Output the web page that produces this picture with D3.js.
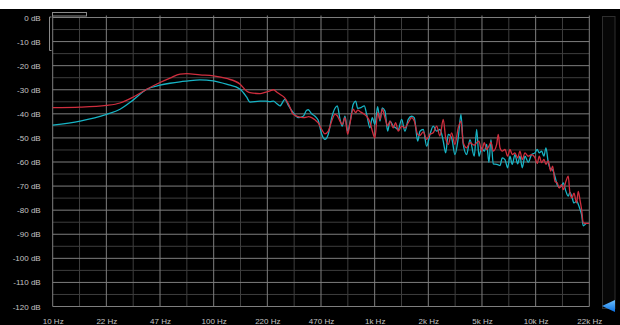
<!DOCTYPE html>
<html><head><meta charset="utf-8">
<script src="https://cdn.jsdelivr.net/npm/d3@7"></script>
<style>html,body{margin:0;padding:0;background:#fff;}svg{display:block;}</style>
</head><body>
<svg id="chart" width="620" height="325"></svg>
<script>
const freqs = [10, 14.8, 21.6, 26.2, 31.7, 38.4, 46.4, 53.5, 61.8, 68.0, 82.2, 99.4, 120, 146, 160, 168, 194, 211, 224, 235, 247, 258, 277, 291, 312, 335, 360, 378, 387, 406, 426, 446, 469, 491, 515, 541, 567, 586, 609, 629, 654, 680, 702, 736, 762, 784, 822, 862, 892, 935, 966, 1004, 1044, 1079, 1115, 1159, 1204, 1245, 1305, 1350, 1401, 1471, 1542, 1617, 1698, 1762, 1850, 1912, 2004, 2104, 2206, 2312, 2427, 2544, 2667, 2761, 2865, 3008, 3153, 3305, 3436, 3551, 3728, 3908, 4156, 4301, 4445, 4619, 4795, 4963, 5128, 5277, 5454, 5726, 5859, 6003, 6204, 6448, 6702, 6926, 7157, 7439, 7732, 7991, 8258, 8583, 8998, 9446, 9900, 10231, 10528, 10896, 11260, 11587, 11974, 12392, 12752, 13179, 13619, 14014, 14504, 14840, 15424, 15940, 16332, 16806, 17294, 17974, 18390, 18843, 19306, 19753, 20736, 21500];

const redDb = [-37.4, -37.2, -36.5, -35.5, -33, -29.8, -27, -25.2, -23.5, -23.3, -23.8, -24.2, -25.3, -27.7, -30.5, -31.2, -31.6, -31, -30.5, -30, -31, -31.9, -33.5, -35.8, -40.2, -41.2, -41.6, -41.4, -41.2, -41.6, -42.5, -43.8, -46.5, -48.3, -47.2, -43, -40.2, -40.8, -43, -44.4, -41.6, -48.5, -44, -38.1, -39.5, -38.5, -39.3, -40.2, -41, -43.5, -47, -50, -39.5, -42.3, -38.1, -41.6, -45, -43, -45.8, -43.7, -47.2, -45.1, -45.8, -43.7, -41.6, -43, -48.5, -49, -47.5, -50.6, -48.5, -47.9, -45.1, -49.2, -42.3, -50, -52.7, -47.9, -52.7, -45.8, -43, -52, -54.1, -52, -53, -52, -51.3, -55.5, -52, -54.8, -53.4, -51.8, -55.5, -52.7, -48.5, -54.1, -55.5, -54.8, -57.6, -54.8, -56.9, -56.2, -58.3, -55.5, -59, -56.2, -57.6, -56.9, -58.2, -60.6, -57.6, -60.3, -58.9, -61, -59.5, -63.8, -61.7, -68, -68.7, -70.8, -69.4, -71.5, -68, -65.9, -72.9, -74.9, -72.9, -77, -72.2, -75.6, -79.8, -85.3, -85.5, -85.5];

const cyanDb = [-44.7, -43, -40.2, -38.1, -34.2, -29.8, -28.1, -27.3, -26.7, -26.4, -25.9, -26.3, -27.7, -29.8, -33, -35.1, -34.7, -34.7, -34.9, -34.7, -35.8, -36.7, -34, -36.5, -39.5, -41.6, -41, -38.5, -38.3, -40, -41, -42.7, -48.5, -50.6, -48.5, -41.6, -37.7, -36.7, -42.2, -45.1, -41, -47.2, -43.7, -36, -34.7, -37.7, -37.4, -36.7, -40.2, -45.8, -41.6, -44.4, -37, -43, -37.5, -38.8, -47.2, -43, -45.1, -45.8, -46.5, -42.3, -47.2, -42.3, -41, -41.6, -51.3, -47.2, -46.5, -53.4, -48.5, -45.1, -47.2, -46.5, -51.3, -56.2, -48.5, -50, -56.9, -50, -40.2, -52.7, -56.9, -50.7, -57.6, -46.5, -57.6, -54.1, -55.5, -52.7, -60.1, -50.7, -60.8, -61, -61.2, -61.5, -58.3, -59, -62.4, -57.6, -61, -56.9, -60.8, -57.6, -62.4, -57.6, -60.1, -56.9, -56.2, -54.8, -56.2, -55.5, -57.6, -54.1, -60.1, -62.9, -63.3, -66, -69.5, -70.5, -70, -68.7, -72.2, -74.2, -72.5, -74.5, -77, -76.3, -77.5, -79.5, -82, -86.5, -85.5, -85.5];

const xTickValues = [10, 21.544, 46.416, 100, 215.44, 464.16, 1000, 2154.4, 4641.6, 10000, 21544];
const xTickLabels = ["10 Hz", "22 Hz", "47 Hz", "100 Hz", "220 Hz", "470 Hz", "1k Hz", "2k Hz", "5k Hz", "10k Hz", "22k Hz"];
const yTickValues = [0, -10, -20, -30, -40, -50, -60, -70, -80, -90, -100, -110, -120];

const svg = d3.select("#chart");
const x = d3.scaleLog().domain([10, 21544]).range([52.7, 589.3]);
const y = d3.scaleLinear().domain([-120, 0]).range([306.5, 17.5]);

// background
svg.append("rect").attr("x", 0).attr("y", 0).attr("width", 620).attr("height", 325).attr("fill", "#ffffff");
svg.append("rect").attr("x", 0).attr("y", 9).attr("width", 620).attr("height", 316).attr("fill", "#000000");

// grid
const g = svg.append("g");
const vMinor = d3.range(1, 20, 2).map(k => 10 * Math.pow(10, k / 6));
const hMinor = d3.range(-115, 0, 10);
g.selectAll(".hmin").data(hMinor).join("line")
  .attr("x1", x(10)).attr("x2", x(21544)).attr("y1", d => y(d)).attr("y2", d => y(d))
  .attr("stroke", "#3e3e3e").attr("stroke-width", 1);
g.selectAll(".vmin").data(vMinor).join("line")
  .attr("x1", d => x(d)).attr("x2", d => x(d)).attr("y1", y(0)).attr("y2", y(-120))
  .attr("stroke", "#3e3e3e").attr("stroke-width", 1);
g.selectAll(".hmaj").data(yTickValues).join("line")
  .attr("x1", x(10)).attr("x2", x(21544)).attr("y1", d => y(d)).attr("y2", d => y(d))
  .attr("stroke", "#7e7e7e").attr("stroke-width", 1);
g.selectAll(".vmaj").data(xTickValues).join("line")
  .attr("x1", d => x(d)).attr("x2", d => x(d)).attr("y1", y(0) - 2).attr("y2", y(-120))
  .attr("stroke", "#7e7e7e").attr("stroke-width", 1);

// small UI decorations top-left
svg.append("rect").attr("x", 52.5).attr("y", 12.5).attr("width", 34).attr("height", 3.5)
  .attr("fill", "none").attr("stroke", "#8a8a8a").attr("stroke-width", 1);
svg.append("path").attr("d", "M51.5,17 L49.5,17 L49.5,50.5 L51.5,50.5")
  .attr("fill", "none").attr("stroke", "#8a8a8a").attr("stroke-width", 1);

// axes labels
const yAxis = d3.axisLeft(y).tickValues(yTickValues).tickFormat(d => d + " dB").tickSize(0).tickPadding(12);
const ya = svg.append("g").attr("transform", `translate(${x(10)},0)`).call(yAxis);
ya.select(".domain").remove();
ya.selectAll("text").attr("fill", "#c4c4c4").attr("font-family", "'Liberation Sans', Arial, sans-serif").attr("font-size", "8px");

const xAxis = d3.axisBottom(x).tickValues(xTickValues).tickFormat((d, i) => xTickLabels[i]).tickSize(0).tickPadding(12.3);
const xa = svg.append("g").attr("transform", `translate(0,${y(-120)})`).call(xAxis);
xa.select(".domain").remove();
xa.selectAll("text").attr("fill", "#c4c4c4").attr("font-family", "'Liberation Sans', Arial, sans-serif").attr("font-size", "8px");

// curves
const line = d3.line().x(d => x(d[0])).y(d => y(d[1])).curveMonotoneX ? null : null;
const mk = vals => d3.line().x((d, i) => x(freqs[i])).y(d => y(d)).curve(d3.curveMonotoneX)(vals);
svg.append("path").attr("d", mk(cyanDb)).attr("fill", "none").attr("stroke", "#17b3c4").attr("stroke-width", 1.3).attr("stroke-linejoin", "round");
svg.append("path").attr("d", mk(redDb)).attr("fill", "none").attr("stroke", "#cf2e3e").attr("stroke-width", 1.3).attr("stroke-linejoin", "round");

// right level bar
svg.append("rect").attr("x", 602.5).attr("y", 16.5).attr("width", 12.5).attr("height", 292)
  .attr("fill", "#070707").attr("stroke", "#2e2e2e").attr("stroke-width", 1);
const defs = svg.append("defs");
const grad = defs.append("linearGradient").attr("id", "tri").attr("x1", 0).attr("y1", 0).attr("x2", 0).attr("y2", 1);
grad.append("stop").attr("offset", "0%").attr("stop-color", "#6cc0ff");
grad.append("stop").attr("offset", "100%").attr("stop-color", "#0a6fe0");
svg.append("path").attr("d", "M602,306 L615,300 L615,312 Z").attr("fill", "url(#tri)");
</script>
</body></html>
